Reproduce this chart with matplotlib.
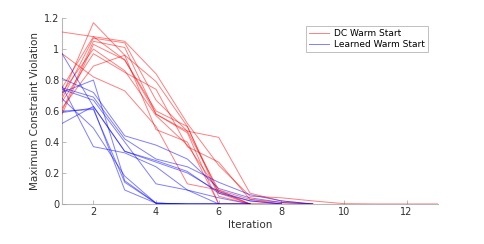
"""Max constraint violation per iteration, DC vs learned warm start"""

import matplotlib.pyplot as plt

# DC warm start runs (red), one list per run, value per iteration from 1
dc_runs = [
    [1.11, 1.08, 1.05, 0.84, 0.52, 0.25, 0.05, 0.04, 0.02, 0.002, 0, 0, 0],
    [0.97, 0.82, 0.73, 0.50, 0.13, 0.09, 0.00, 0, 0],
    [0.70, 1.17, 0.96, 0.79, 0.50, 0.07, 0.00, 0],
    [0.68, 1.07, 1.04, 0.67, 0.47, 0.43, 0.07, 0.02, 0],
    [0.60, 1.05, 1.01, 0.58, 0.47, 0.09, 0.03, 0],
    [0.58, 1.03, 0.93, 0.58, 0.46, 0.00, 0],
    [0.72, 1.00, 0.86, 0.57, 0.38, 0.08, 0.00],
    [0.66, 0.97, 0.85, 0.74, 0.37, 0.27, 0.03, 0.01, 0],
    [0.62, 0.89, 0.96, 0.48, 0.40, 0.00, 0],
    [0.75, 1.08, 0.93, 0.60, 0.50, 0.05, 0.00],
]

# learned warm start runs (blue)
learned_runs = [
    [0.97, 0.63, 0.34, 0.28, 0.21, 0.07, 0.02, 0],
    [0.81, 0.72, 0.44, 0.38, 0.29, 0.10, 0.04, 0.01, 0],
    [0.76, 0.37, 0.33, 0.24, 0.09, 0.00, 0],
    [0.75, 0.69, 0.42, 0.29, 0.24, 0.14, 0.06, 0.02, 0],
    [0.74, 0.67, 0.40, 0.13, 0.09, 0.04, 0.00],
    [0.72, 0.80, 0.15, 0.005, 0, 0],
    [0.68, 0.49, 0.18, 0.005, 0, 0, 0],
    [0.60, 0.61, 0.14, 0.005, 0, 0],
    [0.59, 0.62, 0.09, 0.005, 0, 0, 0],
    [0.52, 0.63, 0.34, 0.27, 0.20, 0.08, 0.02, 0],
]

fig = plt.figure(figsize=(4.85, 2.44), dpi=100)
ax = fig.add_axes([0.128, 0.164, 0.775, 0.762])

for i, run in enumerate(dc_runs):
    ax.plot(range(1, len(run) + 1), run, color=(1, 0, 0, 0.5), lw=0.7,
            label='DC Warm Start' if i == 0 else None)
for i, run in enumerate(learned_runs):
    ax.plot(range(1, len(run) + 1), run, color=(0, 0, 1, 0.5), lw=0.7,
            label='Learned Warm Start' if i == 0 else None)

ax.set_xlim(1, 13)
ax.set_ylim(0, 1.2)
ax.set_xticks([2, 4, 6, 8, 10, 12])
ax.set_yticks([0, 0.2, 0.4, 0.6, 0.8, 1.0, 1.2])
ax.set_yticklabels(['0', '0.2', '0.4', '0.6', '0.8', '1', '1.2'])
ax.tick_params(direction='in', labelsize=7, labelcolor='#303030',
               color='#a0a0a0', length=3, width=0.5, pad=2)
for side in ['top', 'right']:
    ax.spines[side].set_visible(False)
for side in ['left', 'bottom']:
    ax.spines[side].set_color('#b8b8b8')
    ax.spines[side].set_linewidth(0.8)
    ax.spines[side].set_zorder(0)

ax.set_xlabel('Iteration', fontsize=7.5, color='#303030', labelpad=2)
ax.set_ylabel('Maximum Constraint Violation', fontsize=7.5, color='#303030',
              labelpad=3)

leg = ax.legend(loc='upper right', bbox_to_anchor=(0.985, 0.98), fontsize=6.5,
                frameon=True, fancybox=False, handlelength=2.2,
                borderpad=0.3, labelspacing=0.2, handletextpad=0.6)
leg.get_frame().set_edgecolor('#b0b0b0')
leg.get_frame().set_linewidth(0.7)

fig.savefig('out.png', dpi=100)
